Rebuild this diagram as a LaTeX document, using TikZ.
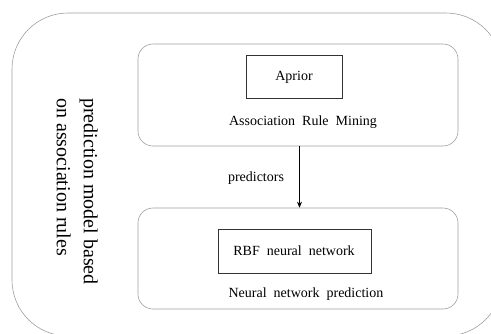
\documentclass[tikz,border=0pt]{standalone}
\usepackage{fontspec}
\setmainfont{Liberation Serif}
\usetikzlibrary{arrows.meta}
\begin{document}
\begin{tikzpicture}[x=1pt,y=-1pt,
  outerbox/.style={draw=gray!75, line width=0.6pt, rounded corners=56pt},
  container/.style={draw=gray!75, line width=0.6pt, rounded corners=15pt, inner sep=0},
  algbox/.style={draw=black!80, line width=0.8pt, inner sep=0},
  lbl/.style={font=\fontsize{14}{16}\selectfont, inner sep=0},
  sidelbl/.style={font=\fontsize{20}{27}\selectfont, inner sep=0, align=left, rotate=-90, anchor=north west},
  flow/.style={draw=black, line width=0.6pt, -{Stealth[length=6pt,width=5pt]}}]
\useasboundingbox (0,0) rectangle (491,333);
\draw[outerbox] (12,13) rectangle (502,336);
\node[container, minimum width=320pt, minimum height=102pt] (top) at (298,95) {};
\node[container, minimum width=320pt, minimum height=101pt] (bottom) at (298,258.5) {};
\node[algbox, minimum width=96pt, minimum height=43pt] (aprior) at (294,76.5) {};
\node[lbl] (apriorlbl) at (294,77) {Aprior};
\node[algbox, minimum width=153pt, minimum height=44pt] (rbf) at (294.5,251) {};
\node[lbl] (rbflbl) at (294,251) {RBF~~neural~~network};
\node[lbl] (arm) at (303,122) {Association~~Rule~~Mining};
\node[lbl] (nnp) at (306,294) {Neural~~network~~prediction};
\node[lbl] (pred) at (256,178) {predictors};
\coordinate (ax) at (299.5,0);
\draw[flow] (top.south -| ax) -- (bottom.north -| ax);
\node[sidelbl] (side) at (98,98) {prediction model based\\on association rules};
\end{tikzpicture}
\end{document}
